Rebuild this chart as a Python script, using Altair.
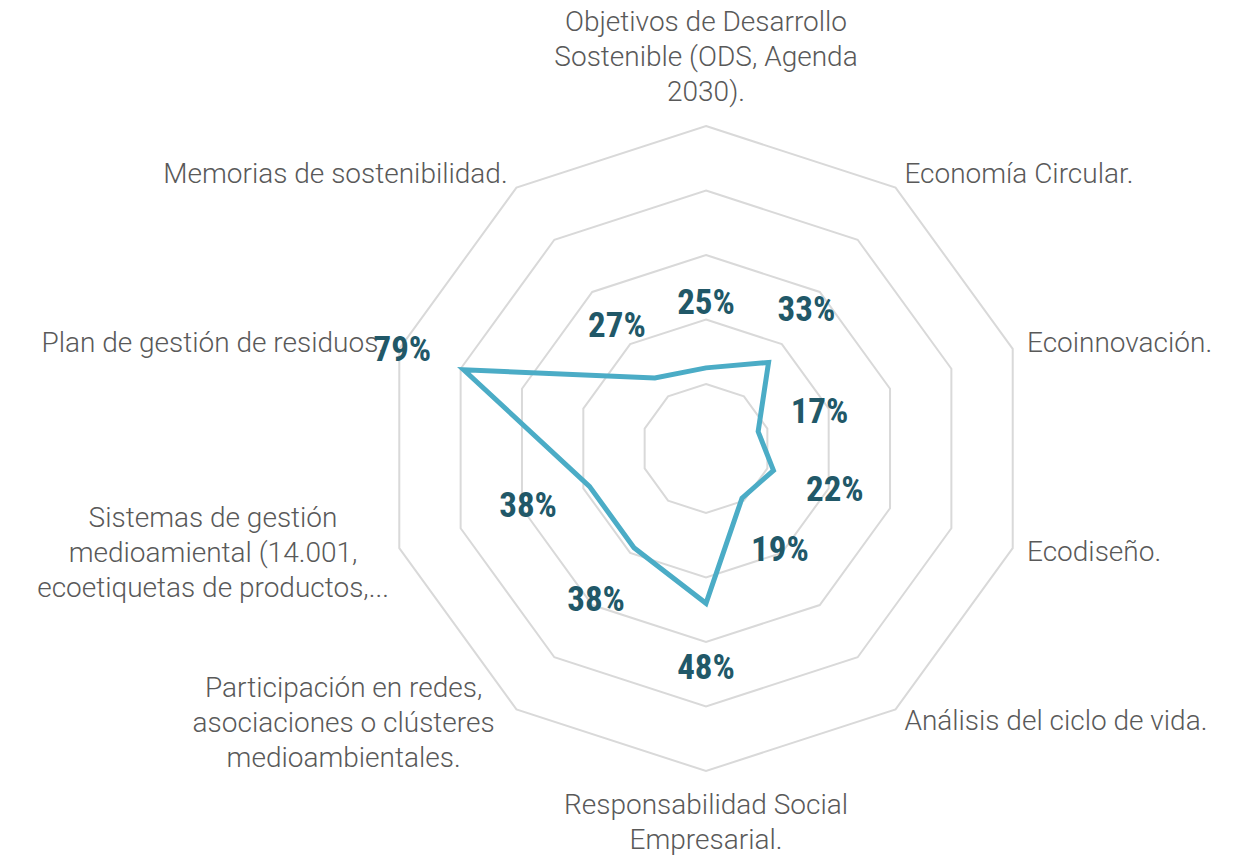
import math
import altair as alt
import pandas as pd

# ---- data ----
categories = [
    "Objetivos de Desarrollo\nSostenible (ODS, Agenda\n2030).",
    "Economía Circular.",
    "Ecoinnovación.",
    "Ecodiseño.",
    "Análisis del ciclo de vida.",
    "Responsabilidad Social\nEmpresarial.",
    "Participación en redes,\nasociaciones o clústeres\nmedioambientales.",
    "Sistemas de gestión\nmedioamiental (14.001,\necoetiquetas de productos,...",
    "Plan de gestión de residuos.",
    "Memorias de sostenibilidad.",
]
values = [25, 33, 17, 22, 19, 48, 38, 38, 79, 27]
ring_levels = [20, 40, 60, 80, 100]

N = len(categories)
df = pd.DataFrame({"idx": list(range(N)), "cat": categories, "value": values})
grid = pd.DataFrame([{"ring": r, "idx": i} for r in ring_levels for i in range(N)])
cats_df = pd.DataFrame({"idx": list(range(N)), "cat": categories})

# ---- geometry (page: 1219x841 drawing area) ----
W, H = 1219, 841
CX, CY, R = 698, 439.5, 322.5
xdom = [-CX / R, (W - CX) / R]
ydom = [-(H - CY) / R, CY / R]
xs = alt.Scale(domain=xdom, nice=False, zero=False)
ys = alt.Scale(domain=ydom, nice=False, zero=False)
X = alt.X("x:Q", scale=xs, axis=None)
Y = alt.Y("y:Q", scale=ys, axis=None)

ang = f"datum.idx * 2 * PI / {N}"

gridlines = alt.Chart(grid).transform_calculate(
    x=f"datum.ring / 100 * sin({ang})", y=f"datum.ring / 100 * cos({ang})"
).mark_line(interpolate="linear-closed", color="#D9D9D9", strokeWidth=2).encode(
    x=X, y=Y, detail="ring:N", order="idx:Q"
)

line = alt.Chart(df).transform_calculate(
    x=f"datum.value / 100 * sin({ang})", y=f"datum.value / 100 * cos({ang})"
).mark_line(interpolate="linear-closed", color="#4BACC6", strokeWidth=5,
            strokeJoin="miter").encode(x=X, y=Y, order="idx:Q")

vlabels = alt.Chart(df).transform_calculate(
    x=f"(datum.value / 100 + 0.2) * sin({ang})",
    y=f"(datum.value / 100 + 0.2) * cos({ang})",
    lbl="datum.value + '%'",
).mark_text(font="Roboto Condensed, Liberation Sans Narrow, Roboto", fontWeight="bold",
            fontSize=35, color="#215868", baseline="middle").encode(
    x=X, y=Y, text="lbl:N"
)

LR = 1 + 15 / R
base = alt.Chart(cats_df).transform_calculate(
    x=f"{LR} * sin({ang})", y=f"{LR} * cos({ang})"
)
tprops = dict(font="Roboto", fontSize=28, fontWeight=300, color="#595959",
              lineBreak="\n", lineHeight=35, baseline="middle")

top = base.transform_filter("datum.idx == 0").mark_text(
    align="center", dy=-88, **tprops).encode(x=X, y=Y, text="cat:N")
bottom = base.transform_filter("datum.idx == 5").mark_text(
    align="center", dy=20, **tprops).encode(x=X, y=Y, text="cat:N")
right = base.transform_filter("datum.idx >= 1 && datum.idx <= 4").mark_text(
    align="left", **tprops).encode(x=X, y=Y, text="cat:N")
left1 = base.transform_filter("datum.idx == 8 || datum.idx == 9").mark_text(
    align="right", **tprops).encode(x=X, y=Y, text="cat:N")
part = base.transform_filter("datum.idx == 6").mark_text(
    align="center", dx=-164, dy=-33, **tprops).encode(x=X, y=Y, text="cat:N")
sist = base.transform_filter("datum.idx == 7").mark_text(
    align="center", dx=-172, dy=-34, **tprops).encode(x=X, y=Y, text="cat:N")

chart = alt.layer(gridlines, line, top, bottom, right, left1, part, sist, vlabels).properties(
    width=W, height=H, padding=0
).configure_view(stroke=None)

chart.save("out.html", embed_options={"renderer": "svg", "actions": False})
